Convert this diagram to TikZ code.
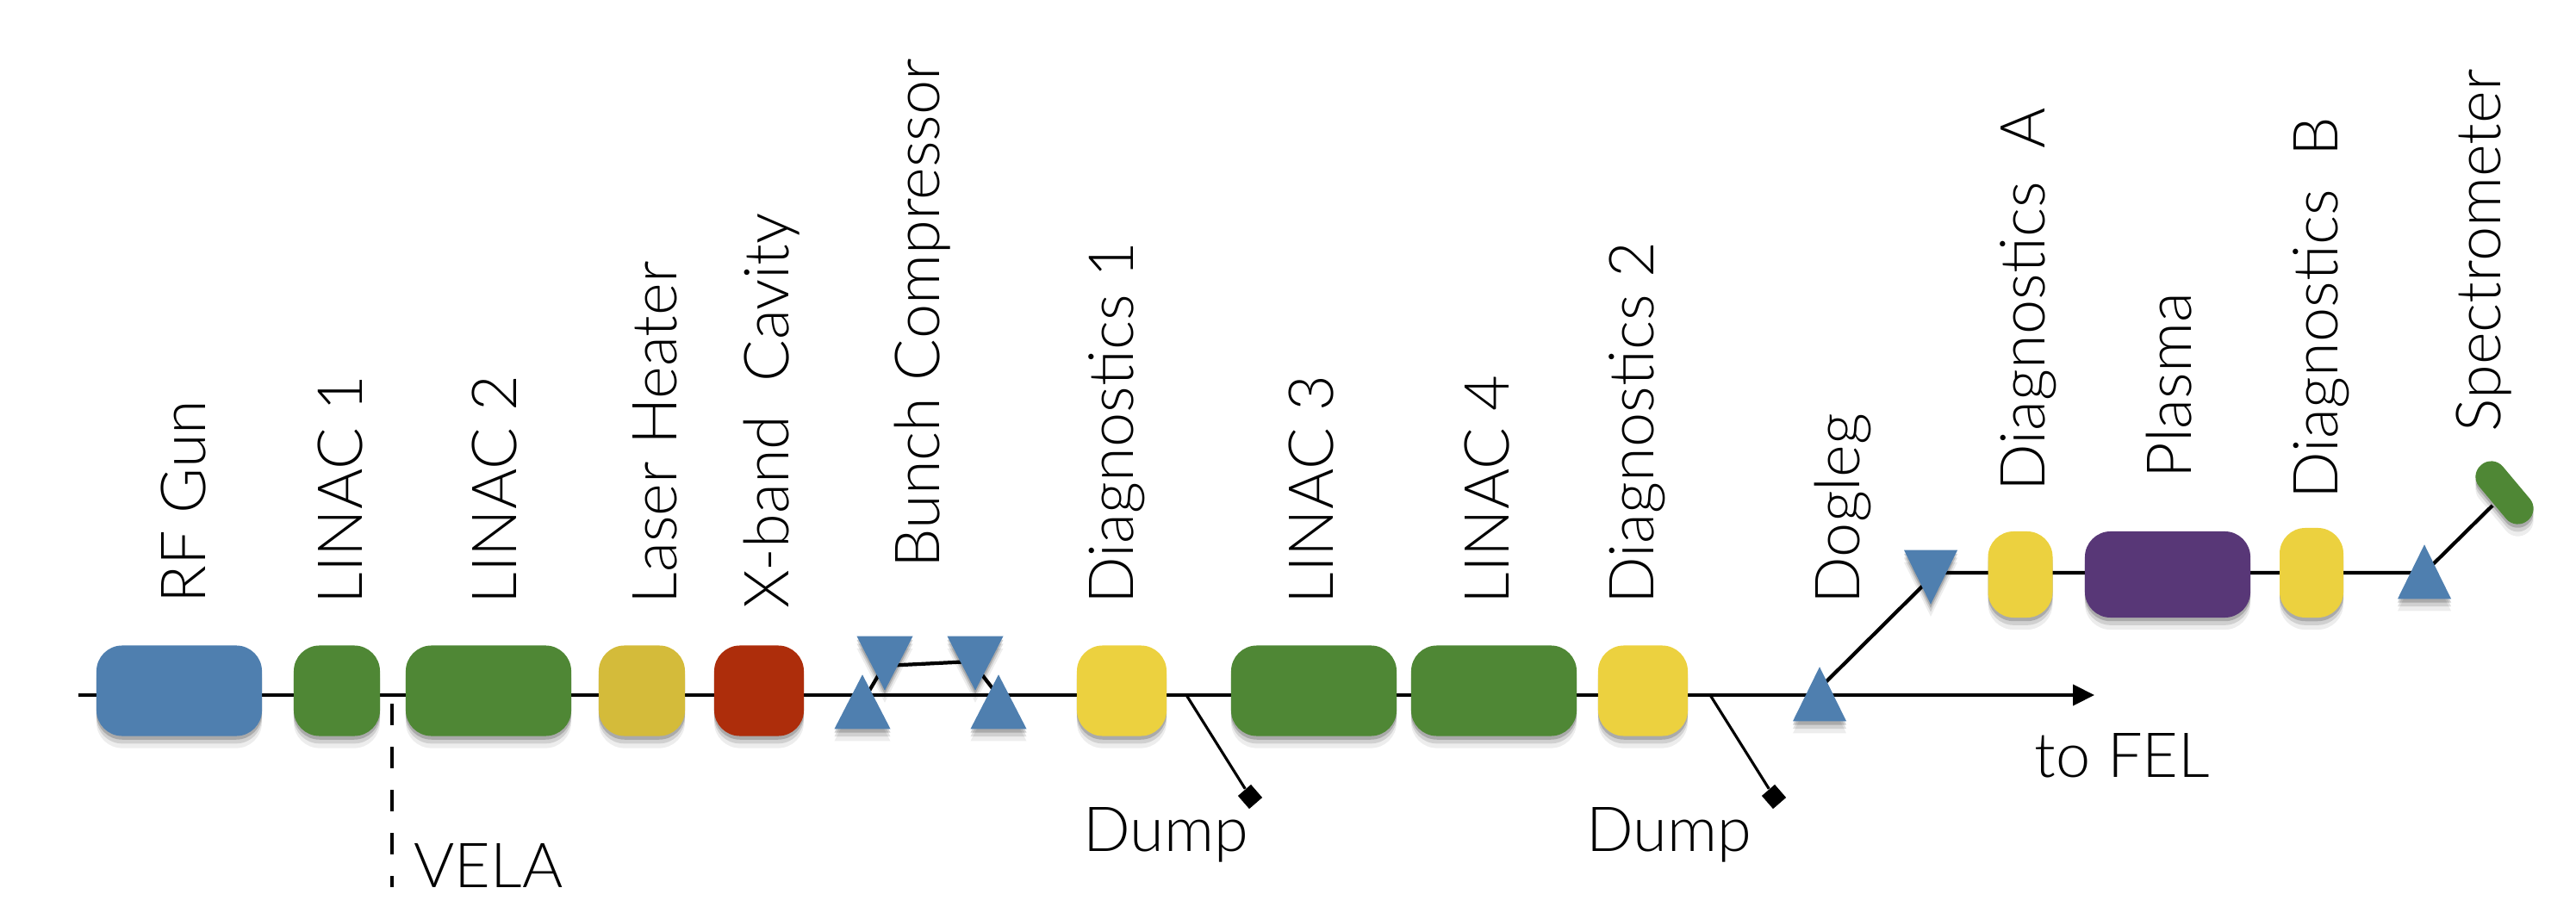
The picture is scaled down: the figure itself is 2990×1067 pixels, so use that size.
\documentclass[tikz,border=0pt]{standalone}
\usepackage{fontspec}
\setmainfont{Lato Light}
\usepackage{tikz}
\usetikzlibrary{shapes.geometric, arrows.meta, shadows, backgrounds}
\definecolor{gunblue}{HTML}{4F7FAF}
\definecolor{linacgreen}{HTML}{4F8735}
\definecolor{heateryellow}{HTML}{D4BB3A}
\definecolor{diagyellow}{HTML}{ECD13F}
\definecolor{cavityred}{HTML}{AD2D0B}
\definecolor{plasmapurple}{HTML}{583777}
\tikzset{
  beamline/.style={line width=1.2pt},
  thinline/.style={line width=.9pt},
  dropshade/.style={
    drop shadow={shadow xshift=0pt, shadow yshift=-4pt, fill=black, opacity=.07},
    drop shadow={shadow xshift=0pt, shadow yshift=-2.5pt, fill=black, opacity=.12},
    drop shadow={shadow xshift=0pt, shadow yshift=-1.2pt, fill=black, opacity=.18}},
  cell/.style={rectangle, rounded corners=8.5pt, inner sep=0pt, minimum height=1.05cm, dropshade},
  longcell/.style={cell, minimum width=1.92cm},
  shortcell/.style={cell, minimum width=1.04cm},
  magup/.style={isosceles triangle, isosceles triangle stretches, shape border rotate=90, inner sep=0pt, fill=gunblue, anchor=lower side, dropshade},
  magdown/.style={magup, shape border rotate=270},
  smallmag/.style={minimum height=.63cm, minimum width=.65cm},
  bigmag/.style={minimum height=.63cm, minimum width=.62cm},
  tag/.style={anchor=base west, inner ysep=0pt, inner xsep=-.05cm, font=\fontsize{20.5}{21}\selectfont},
  vtag/.style={tag, rotate=90},
  dumpblock/.style={rectangle, fill=black, inner sep=0pt, minimum width=.2cm, minimum height=.2cm},
}
\begin{document}
\begin{tikzpicture}[x=0.01cm, y=-0.01cm]
  \useasboundingbox (0,0) rectangle (2990,1067);
  % main line
  \coordinate (start) at (91,807);
  \coordinate (end) at (2431,807);
  \coordinate (vtop) at (455,817);
  \coordinate (vbot) at (455,1030);
  \coordinate (tapA) at (1377,807);
  \coordinate (tapB) at (1985,807);
  \coordinate (legA) at (2104,807);
  \coordinate (legB) at (2247,665);
  \coordinate (benda) at (1006,807);
  \coordinate (bendb) at (1026,773);
  \coordinate (bendc) at (1128,768);
  \coordinate (bendd) at (1158,807);
  \coordinate (bende) at (2814,665);
  \coordinate (specin) at (2893,587);
  \node[dumpblock, rotate=-49] (dumpA) at (1451,925) {};
  \node[dumpblock, rotate=-49] (dumpB) at (2059,925) {};
  \node[magup, smallmag] (m1) at (1001,847) {};
  \node[magdown, smallmag] (m2) at (1027,738) {};
  \node[magdown, smallmag] (m3) at (1132,738) {};
  \node[magup, smallmag] (m4) at (1159,847) {};
  \node[magup, bigmag] (m5) at (2112,838) {};
  \node[magdown, bigmag] (m6) at (2241,638) {};
  \node[magup, bigmag] (m7) at (2814,696) {};
  \node[cell, fill=linacgreen, rounded corners=5pt, minimum width=.84cm, minimum height=.36cm, rotate=-50] (spec) at (2907,572) {};
  \begin{scope}[on background layer]
    \draw[beamline] (start) -- (bendd);
    \draw[beamline, -{Triangle[length=.25cm, width=.24cm]}] (bendd) -- (end);
    \draw[beamline] (benda) -- (bendb) -- (bendc) -- (bendd);
    \draw[beamline] (legA) -- (legB) -- (bende) -- (specin);
    \draw[thinline] (tapA) -- (dumpA);
    \draw[thinline] (tapB) -- (dumpB);
    \draw[thinline, dash pattern=on .25cm off .25cm] (vtop) -- (vbot);
  \end{scope}
  % cells
  \node[longcell, fill=gunblue] (gun) at (208,802) {};
  \node[cell, fill=linacgreen, minimum width=1cm] (linA) at (391,802) {};
  \node[longcell, fill=linacgreen] (linB) at (567,802) {};
  \node[cell, fill=heateryellow, minimum width=1cm] (heater) at (745,802) {};
  \node[cell, fill=cavityred, minimum width=1.04cm] (xband) at (881,802) {};
  \node[shortcell, fill=diagyellow] (diagA) at (1302,802) {};
  \node[longcell, fill=linacgreen] (linC) at (1525,802) {};
  \node[longcell, fill=linacgreen] (linD) at (1734,802) {};
  \node[shortcell, fill=diagyellow] (diagB) at (1907,802) {};
  \node[cell, fill=diagyellow, minimum width=.75cm, minimum height=1cm] (diagC) at (2345,667) {};
  \node[cell, fill=plasmapurple, minimum width=1.92cm, minimum height=1cm] (plasma) at (2516,667) {};
  \node[cell, fill=diagyellow, minimum width=.74cm, minimum height=1.04cm] (diagD) at (2683,665) {};
  % labels
  \node[vtag] (lgun) at (238,696) {RF Gun};
  \node[vtag] (llinA) at (420,697) {LINAC 1};
  \node[vtag] (llinB) at (599,697) {LINAC 2};
  \node[vtag] (lheater) at (785,697) {Laser Heater};
  \node[vtag] (lxband) at (915,702) {X-band\ \ Cavity};
  \node[vtag] (lbunch) at (1090,655) {Bunch Compressor};
  \node[vtag] (ldiagA) at (1315,697) {Diagnostics 1};
  \node[vtag] (llinC) at (1547,697) {LINAC 3};
  \node[vtag] (llinD) at (1751,697) {LINAC 4};
  \node[vtag] (ldiagB) at (1919,697) {Diagnostics 2};
  \node[vtag] (ldog) at (2158,697) {Dogleg};
  \node[vtag] (ldiagC) at (2373,566) {Diagnostics\ \ A};
  \node[vtag] (lplasma) at (2543,551) {Plasma};
  \node[vtag] (ldiagD) at (2713,575) {Diagnostics\ \ B};
  \node[vtag] (lspec) at (2902,497) {Spectrometer};
  \node[tag] (lvela) at (485,1030) {VELA};
  \node[tag] (ldumpA) at (1262,988) {Dump};
  \node[tag] (ldumpB) at (1846,988) {Dump};
  \node[tag] (lfel) at (2366,902) {to FEL};
\end{tikzpicture}
\end{document}
